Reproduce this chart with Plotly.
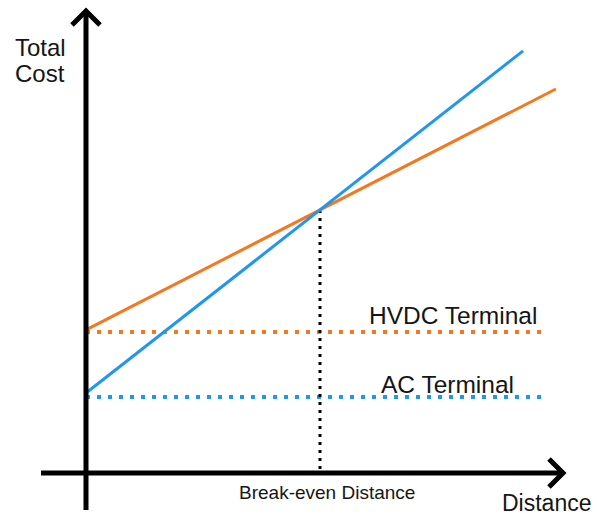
import plotly.graph_objects as go

# ---------------- data ----------------
distance_hvdc = [0, 50, 100.4]
cost_hvdc = [54.4, 100, 146.0]
distance_ac = [0, 50, 93.4]
cost_ac = [30.4, 100, 160.5]
terminal_distance = [0, 97.6]
hvdc_terminal_cost = [53.6, 53.6]
ac_terminal_cost = [28.9, 28.9]
break_even_distance = [50, 50]
break_even_cost = [100, 0]

label_y_lines = ["Total", "Cost"]
label_x = "Distance"
label_break_even = "Break-even Distance"
label_hvdc = "HVDC Terminal"
label_ac = "AC Terminal"

# ---------------- layout helpers ----------------
W, H = 597, 515
X0_PX, Y0_PX = 86, 473      # pixel position of the origin
XS, YS = 4.68, 2.63         # pixels per data unit
x_range = [-X0_PX / XS, (W - X0_PX) / XS]
y_range = [-(H - Y0_PX) / YS, Y0_PX / YS]


def dx(px):
    return (px - X0_PX) / XS


def dy(py):
    return (Y0_PX - py) / YS


ORANGE = "#F37820"
BLUE = "#2196EE"
FONT = "Liberation Sans, Arial, Helvetica, sans-serif"
TXT = "#151515"

fig = go.Figure()

fig.add_trace(go.Scatter(x=terminal_distance, y=hvdc_terminal_cost, mode="lines",
                         line=dict(color=ORANGE, width=4, dash="4px,7px"),
                         hoverinfo="skip", showlegend=False))
fig.add_trace(go.Scatter(x=terminal_distance, y=ac_terminal_cost, mode="lines",
                         line=dict(color=BLUE, width=4, dash="4px,7px"),
                         hoverinfo="skip", showlegend=False))
fig.add_trace(go.Scatter(x=break_even_distance, y=break_even_cost, mode="lines",
                         line=dict(color="black", width=3, dash="3px,5px"),
                         hoverinfo="skip", showlegend=False))
fig.add_trace(go.Scatter(x=distance_hvdc, y=cost_hvdc, mode="lines",
                         line=dict(color=ORANGE, width=3),
                         hoverinfo="skip", showlegend=False))
fig.add_trace(go.Scatter(x=distance_ac, y=cost_ac, mode="lines",
                         line=dict(color=BLUE, width=3),
                         hoverinfo="skip", showlegend=False))


def path(points):
    return "M " + " L ".join(f"{dx(a):.4f},{dy(b):.4f}" for a, b in points)


shapes = [
    dict(type="path", path=path([(86, 510), (86, 11)]), line=dict(color="black", width=5), layer="above"),
    dict(type="path", path=path([(72, 25), (86, 11), (100, 25)]), line=dict(color="black", width=5), layer="above"),
    dict(type="path", path=path([(41, 473), (563, 473)]), line=dict(color="black", width=5), layer="above"),
    dict(type="path", path=path([(549, 459), (563, 473), (549, 487)]), line=dict(color="black", width=5), layer="above"),
]


def ann(text, px, py, size, xanchor="center"):
    return dict(x=px / W, y=1 - py / H, xref="paper", yref="paper", text=text, showarrow=False,
                xanchor=xanchor, yanchor="middle", borderpad=0,
                font=dict(family=FONT, size=size, color=TXT))


annotations = [
    ann(label_y_lines[0], 14, 47, 24, "left"),
    ann(label_y_lines[1], 14, 74, 24, "left"),
    ann(label_x, 546, 503, 23),
    ann(label_break_even, 327, 492, 19),
    ann(label_hvdc, 453, 315, 24.5),
    ann(label_ac, 447, 384, 24.5),
]

fig.update_layout(
    width=W, height=H, autosize=False,
    margin=dict(l=0, r=0, t=0, b=0, pad=0),
    paper_bgcolor="white", plot_bgcolor="white",
    xaxis=dict(range=x_range, visible=False, fixedrange=True),
    yaxis=dict(range=y_range, visible=False, fixedrange=True),
    shapes=shapes, annotations=annotations, showlegend=False,
)

fig.write_html("out.html", config={"displayModeBar": False},
               post_script="document.body.style.margin='0';document.body.style.overflow='hidden';")
